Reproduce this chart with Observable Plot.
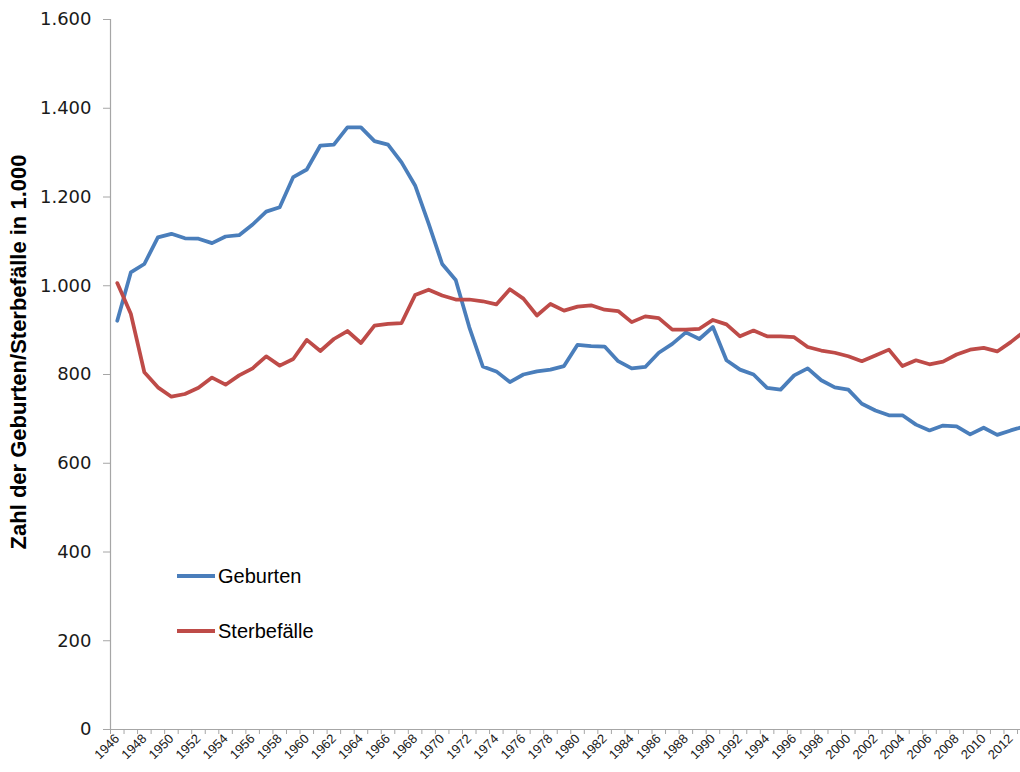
<!DOCTYPE html>
<html><head><meta charset="utf-8">
<script src="https://cdn.jsdelivr.net/npm/d3@7"></script>
<script src="https://cdn.jsdelivr.net/npm/@observablehq/plot@0.6"></script>
<style>
body{margin:0;background:#fff;overflow:hidden}
#wrap{position:relative;width:1020px;height:772px}
#ytitle{position:absolute;left:19px;top:352px;transform:translate(-50%,-50%) rotate(-90deg);font:bold 22px "Liberation Sans Narrow","Liberation Sans",sans-serif;white-space:nowrap;color:#000}
.legend{position:absolute;left:177px;font:20px "Liberation Sans",sans-serif;display:flex;align-items:center;color:#000;height:24px}
.sw{width:38px;height:4px;margin-right:3px}
</style></head>
<body>
<div id="wrap">
<div id="chart"></div>
<div id="ytitle">Zahl der Geburten/Sterbefälle in 1.000</div>
<div id="legend"></div>
</div>
<script>
const years = [1946,1947,1948,1949,1950,1951,1952,1953,1954,1955,1956,1957,1958,1959,1960,1961,1962,1963,1964,1965,1966,1967,1968,1969,1970,1971,1972,1973,1974,1975,1976,1977,1978,1979,1980,1981,1982,1983,1984,1985,1986,1987,1988,1989,1990,1991,1992,1993,1994,1995,1996,1997,1998,1999,2000,2001,2002,2003,2004,2005,2006,2007,2008,2009,2010,2011,2012,2013];
const geburten = [921,1030,1049,1109,1117,1107,1106,1096,1111,1114,1138,1167,1177,1245,1262,1316,1318,1357,1357,1326,1318,1278,1226,1140,1049,1013,907,818,807,783,800,807,811,819,867,864,863,830,814,817,849,869,895,880,907,832,811,800,770,766,798,814,787,771,766,734,719,708,708,687,674,685,683,665,680,664,674,683];
const sterbefaelle = [1006,937,805,771,750,756,770,793,777,798,814,841,820,835,878,853,880,898,871,910,914,916,979,991,978,969,969,965,958,992,971,933,959,944,953,956,946,943,918,931,927,901,901,903,923,913,886,899,886,886,884,862,854,849,841,830,843,856,819,832,823,829,845,856,860,852,873,897];
const series = ["Geburten","Sterbefälle"];
const colors = ["#4A7EBB","#BE4B48"];
const yTicks = [0,200,400,600,800,1000,1200,1400,1600];
const xLabels = [1946,1948,1950,1952,1954,1956,1958,1960,1962,1964,1966,1968,1970,1972,1974,1976,1978,1980,1982,1984,1986,1988,1990,1992,1994,1996,1998,2000,2002,2004,2006,2008,2010,2012];

const fmt = d3.formatLocale({decimal:",",thousands:".",grouping:[3],currency:["","€"]}).format(",d");
const data = years.flatMap((y,i)=>[
  {year:y, value:geburten[i], s:series[0]},
  {year:y, value:sterbefaelle[i], s:series[1]}
]);
const boundaries = years.map(y => y - 0.5);

const chart = Plot.plot({
  width:1020, height:772,
  marginTop:19, marginBottom:43, marginLeft:110, marginRight:0,
  x:{type:"linear", domain:[1945.5, 2012.72]},
  y:{domain:[0,1600]},
  color:{domain:series, range:colors},
  style:{background:"white", color:"#000"},
  marks:[
    Plot.axisY(yTicks,{tickSize:7, tickPadding:12, tickFormat:fmt, fontSize:18, fontFamily:"DejaVu Sans", stroke:"#a6a6a6", fill:"#1a1a1a", label:null}),
    Plot.ruleX([1945.5],{stroke:"#a6a6a6", strokeWidth:1.2}),
    Plot.ruleY([0],{stroke:"#a6a6a6", strokeWidth:1.2}),
    Plot.axisX(boundaries.filter(b=>b<=2012.72),{tickSize:5, tickFormat:()=>"", stroke:"#a6a6a6", label:null}),
    Plot.axisX(xLabels,{tickSize:0, tickPadding:7, tickRotate:-45, tickFormat:d=>String(d), fontSize:13, fontFamily:"Liberation Sans", fill:"#1a1a1a", label:null}),
    Plot.lineY(data,{x:"year", y:"value", stroke:"s", strokeWidth:3.75, strokeLinejoin:"round", clip:true})
  ]
});
document.getElementById("chart").appendChild(chart);

const legendTops = [564, 619];
const lg = document.getElementById("legend");
series.forEach((s,i)=>{
  const row = document.createElement("div");
  row.className = "legend";
  row.style.top = legendTops[i] + "px";
  row.innerHTML = `<span class="sw" style="background:${colors[i]}"></span><span>${s}</span>`;
  lg.appendChild(row);
});
</script>
</body></html>
